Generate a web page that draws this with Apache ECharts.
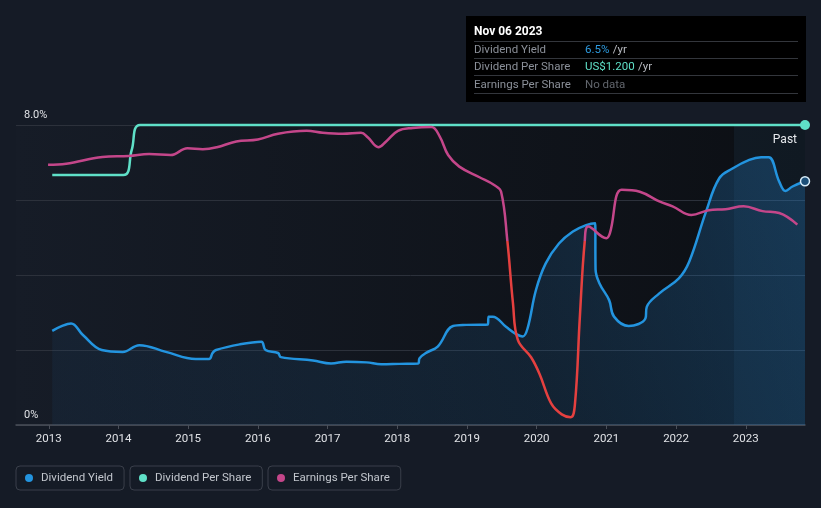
<!DOCTYPE html>
<html>
<head>
<meta charset="utf-8">
<script src="https://cdn.jsdelivr.net/npm/echarts@6/dist/echarts.min.js"></script>
<style>
html,body{margin:0;padding:0;background:#151b26;}
#c{width:821px;height:508px;}
</style>
</head>
<body>
<div id="c"></div>
<script>
// ---- data ----
var yearTicks = [2013, 2014, 2015, 2016, 2017, 2018, 2019, 2020, 2021, 2022, 2023];
var yTickLabels = ['0%', '8.0%'];

var yieldYears = [2013.05, 2013.20, 2013.32, 2013.49, 2013.76, 2014.06, 2014.30, 2014.68, 2015.11, 2015.30, 2015.35, 2015.40, 2015.74, 2016.05, 2016.11, 2016.29, 2016.33, 2016.79, 2017.05, 2017.27, 2017.56, 2017.77, 2018.03, 2018.30, 2018.32, 2018.42, 2018.58, 2018.80, 2018.99, 2019.30, 2019.31, 2019.37, 2019.56, 2019.70, 2019.80, 2019.87, 2019.99, 2020.13, 2020.32, 2020.52, 2020.71, 2020.84, 2020.845, 2020.90, 2021.04, 2021.11, 2021.32, 2021.56, 2021.58, 2021.76, 2022.04, 2022.19, 2022.43, 2022.62, 2022.81, 2023.05, 2023.22, 2023.33, 2023.48, 2023.57, 2023.67, 2023.85];
var yieldValues = [2.51, 2.65, 2.71, 2.40, 2.00, 1.95, 2.13, 1.95, 1.76, 1.76, 1.92, 2.00, 2.15, 2.22, 2.00, 1.92, 1.81, 1.72, 1.64, 1.69, 1.67, 1.62, 1.63, 1.64, 1.78, 1.93, 2.09, 2.64, 2.67, 2.68, 2.89, 2.89, 2.62, 2.43, 2.36, 2.58, 3.60, 4.31, 4.84, 5.16, 5.33, 5.38, 4.15, 3.78, 3.33, 2.89, 2.64, 2.84, 3.15, 3.51, 3.91, 4.36, 5.69, 6.58, 6.84, 7.07, 7.14, 7.14, 6.49, 6.24, 6.36, 6.50];

var dpsYears = [2013.05, 2014.07, 2014.19, 2014.31, 2023.85];
var dpsValues = [1.0, 1.0, 1.1, 1.2, 1.2];

var epsYears = [2012.99, 2013.25, 2013.77, 2014.15, 2014.44, 2014.75, 2014.99, 2015.21, 2015.41, 2015.69, 2016.00, 2016.29, 2016.70, 2016.93, 2017.22, 2017.48, 2017.58, 2017.73, 2017.84, 2018.01, 2018.22, 2018.49, 2018.61, 2018.73, 2018.89, 2019.18, 2019.39, 2019.49, 2019.58, 2019.66, 2019.73, 2019.92, 2020.04, 2020.21, 2020.36, 2020.49, 2020.55, 2020.62, 2020.69, 2020.74, 2021.00, 2021.05, 2021.22, 2021.48, 2021.76, 2021.95, 2022.22, 2022.47, 2022.71, 2022.97, 2023.24, 2023.48, 2023.74];
var epsValues = [0.79, 0.80, 0.87, 0.88, 0.90, 0.89, 0.96, 0.95, 0.97, 1.03, 1.05, 1.11, 1.14, 1.12, 1.11, 1.12, 1.07, 0.97, 1.03, 1.14, 1.17, 1.18, 1.08, 0.89, 0.77, 0.66, 0.58, 0.51, 0.00, -0.64, -1.02, -1.20, -1.37, -1.68, -1.79, -1.82, -1.68, -0.78, 0.00, 0.15, 0.03, 0.08, 0.53, 0.51, 0.41, 0.36, 0.27, 0.32, 0.33, 0.36, 0.31, 0.29, 0.17];

var pastStart = 2022.83;
var tipDate = 'Nov 06 2023';
var tipYield = '6.5%';
var tipDps = 'US$1.200';
var tipEps = 'No data';

function zip(xs, ys) { return xs.map(function (x, i) { return [x, ys[i]]; }); }

var yieldData = zip(yieldYears, yieldValues);
var last = yieldData.pop();
yieldData.push({ value: last, symbol: 'circle', symbolSize: 9, itemStyle: { color: '#1c4f78', borderColor: '#d8ecf8', borderWidth: 1.5 } });
var dpsData = zip(dpsYears, dpsValues);
var dLast = dpsData.pop();
dpsData.push({ value: dLast, symbol: 'circle', symbolSize: 10, itemStyle: { color: '#5fe0c8' } });

var chart = echarts.init(document.getElementById('c'));
var font = 'Roboto, "Noto Sans", sans-serif';

function legendBox(name, left) {
  return {
    data: [name], left: left, top: 466, orient: 'horizontal',
    icon: 'circle', itemWidth: 14, itemHeight: 8,
    padding: [6, 11, 6, 9], borderColor: '#3a3f4a', borderWidth: 1, borderRadius: 4,
    textStyle: { color: '#c2c6cd', fontSize: 11.5, fontFamily: font },
    selectedMode: false
  };
}

chart.setOption({
  backgroundColor: '#151b26',
  animation: false,
  grid: {
    left: 16, right: 16, top: 125, bottom: 83, show: true, borderWidth: 0,
    backgroundColor: new echarts.graphic.LinearGradient(0, 0, 1, 0, [
      { offset: 0, color: '#161c27' }, { offset: 1, color: '#0c0f14' }
    ])
  },
  legend: [legendBox('Dividend Yield', 16), legendBox('Dividend Per Share', 130), legendBox('Earnings Per Share', 268)],
  xAxis: {
    type: 'value', min: 2012.53, max: 2023.85,
    axisLine: { lineStyle: { color: '#4a4f59', width: 1.5 } },
    axisTick: { show: true, customValues: yearTicks, length: 4, lineStyle: { color: '#4a4f59' } },
    axisLabel: { customValues: yearTicks, color: '#e0e2e6', fontSize: 11.5, fontFamily: font, margin: 8,
      formatter: function (v) { return String(Math.round(v)); } },
    splitLine: { show: false }
  },
  yAxis: [
    {
      type: 'value', min: 0, max: 8, interval: 2, position: 'left',
      axisLine: { show: false }, axisTick: { show: false },
      splitLine: { lineStyle: { color: '#2c313b', width: 1 } },
      axisLabel: {
        inside: true, margin: 8, color: '#e0e2e6', fontSize: 11, fontFamily: font,
        verticalAlign: 'bottom', padding: [0, 0, 4, 0],
        customValues: [0, 8],
        formatter: function (v) { return v === 8 ? yTickLabels[1] : (v === 0 ? yTickLabels[0] : ''); }
      }
    },
    { type: 'value', min: 0, max: 1.2, show: false, splitLine: { show: false } },
    { type: 'value', min: -1.9, max: 1.2, show: false, splitLine: { show: false } }
  ],
  visualMap: {
    show: false, type: 'piecewise', seriesIndex: 2, dimension: 1,
    pieces: [{ gte: -10, lt: 0, color: '#e5403f' }, { gte: 0, lte: 10, color: '#c4468a' }],
    outOfRange: { color: '#c4468a' }
  },
  series: [
    {
      name: 'Dividend Yield', type: 'line', yAxisIndex: 0, data: yieldData,
      smooth: 0.4, showSymbol: true, symbol: 'none', clip: false,
      lineStyle: { color: '#2394df', width: 2.5 },
      itemStyle: { color: '#2394df' },
      areaStyle: {
        color: new echarts.graphic.LinearGradient(0, 1, 1, 0, [
          { offset: 0, color: 'rgba(30,85,135,0.16)' }, { offset: 0.6, color: 'rgba(32,100,155,0.28)' }, { offset: 1, color: 'rgba(35,115,180,0.50)' }
        ])
      },
      markArea: {
        silent: true,
        itemStyle: { color: 'rgba(60,120,170,0.10)' },
        label: { show: true, position: 'insideTopRight', color: '#e6e8ec', fontSize: 12, fontFamily: font, distance: 6, padding: [3, 2, 0, 0] },
        data: [[{ xAxis: pastStart, name: 'Past' }, { xAxis: 2023.85 }]]
      },
      z: 3
    },
    {
      name: 'Dividend Per Share', type: 'line', yAxisIndex: 1, data: dpsData,
      smooth: 0.4, showSymbol: true, symbol: 'none', clip: false,
      lineStyle: { color: '#5fe0c8', width: 2.5 }, itemStyle: { color: '#5fe0c8' }, z: 4
    },
    {
      name: 'Earnings Per Share', type: 'line', yAxisIndex: 2, data: zip(epsYears, epsValues),
      smooth: 0.4, showSymbol: false, symbol: 'none', clip: false,
      lineStyle: { width: 2.5 }, itemStyle: { color: '#c4468a' }, z: 5
    }
  ],
  graphic: [
    { type: 'rect', left: 466, top: 16, shape: { width: 340, height: 86 }, style: { fill: '#000000' }, z: 100 },
    { type: 'text', left: 474, top: 26, style: { text: tipDate, fill: '#ffffff', font: 'bold 12px ' + font }, z: 101 },
    { type: 'line', shape: { x1: 474, y1: 41.5, x2: 798, y2: 41.5 }, style: { stroke: '#33363c', lineWidth: 1 }, z: 101 },
    { type: 'text', left: 474, top: 44, style: { text: 'Dividend Yield', fill: '#8b9099', font: '11.5px ' + font }, z: 101 },
    { type: 'text', left: 585, top: 44, style: { text: '{a|' + tipYield + '} {b|/yr}', rich: { a: { fill: '#2d9be0', font: '11.5px ' + font }, b: { fill: '#b9bcc2', font: '11.5px ' + font } } }, z: 101 },
    { type: 'line', shape: { x1: 474, y1: 58.5, x2: 798, y2: 58.5 }, style: { stroke: '#33363c', lineWidth: 1 }, z: 101 },
    { type: 'text', left: 474, top: 61, style: { text: 'Dividend Per Share', fill: '#8b9099', font: '11.5px ' + font }, z: 101 },
    { type: 'text', left: 585, top: 61, style: { text: '{a|' + tipDps + '} {b|/yr}', rich: { a: { fill: '#5fe0c8', font: '11.5px ' + font }, b: { fill: '#b9bcc2', font: '11.5px ' + font } } }, z: 101 },
    { type: 'line', shape: { x1: 474, y1: 75.5, x2: 798, y2: 75.5 }, style: { stroke: '#33363c', lineWidth: 1 }, z: 101 },
    { type: 'text', left: 474, top: 79, style: { text: 'Earnings Per Share', fill: '#8b9099', font: '11.5px ' + font }, z: 101 },
    { type: 'text', left: 585, top: 79, style: { text: tipEps, fill: '#62666d', font: '11.5px ' + font }, z: 101 },
    { type: 'line', shape: { x1: 474, y1: 93.5, x2: 798, y2: 93.5 }, style: { stroke: '#33363c', lineWidth: 1 }, z: 101 }
  ]
});
</script>
</body>
</html>
